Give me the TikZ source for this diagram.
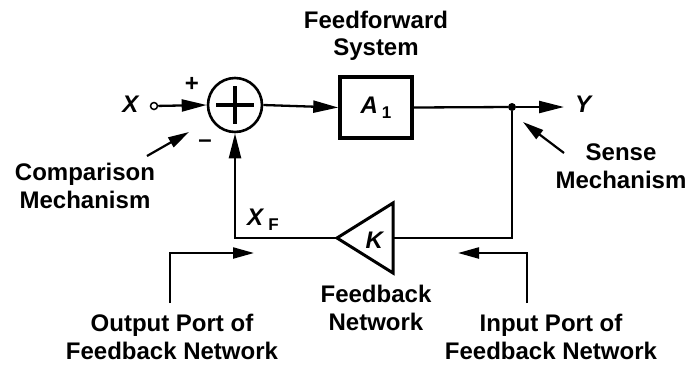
\documentclass[tikz,border=0pt]{standalone}
\usepackage{fontspec}
\setmainfont{Liberation Sans}
\usetikzlibrary{arrows.meta,calc,positioning}

\begin{document}
\begin{tikzpicture}[x=1pt,y=-1pt, every node/.style={font=\fontsize{24}{27.5}\selectfont\bfseries}]
    \useasboundingbox (0,0) rectangle (691,365);
    \tikzset{sig/.style = {line width=2.3pt, -{Triangle[length=25pt,width=12pt]}},
      note/.style = {line width=2.2pt, -{Triangle[length=21pt,width=11pt]}},
      wire/.style = {line width=2.3pt},
      txt/.style = {align=center, inner sep=0pt}}
    % blocks
    \node[circle, draw, line width=2.6pt, minimum size=54pt, inner sep=0pt] (sum) at (235,105) {};
    \draw[line width=4.5pt] ($(sum)-(19,0)$) -- ($(sum)+(19,0)$);
    \draw[line width=4.5pt] ($(sum)-(0,19)$) -- ($(sum)+(0,19)$);
    \node[draw, line width=3.5pt, minimum width=72pt, minimum height=61pt, inner sep=0pt] (A) at (376,107.5)
      {\textit{A}\,\raisebox{-5pt}{\fontsize{17}{17}\selectfont 1}};
    \coordinate (Kt) at (337,238);
    \coordinate (Kr) at (393,238);
    \draw[line width=3pt, line join=miter] (393,203) -- (393,273) -- (Kt) -- cycle;
    \node[txt] (K) at (375,240) {\textit{K}};
    \node[circle, draw, line width=1.5pt, minimum size=7pt, inner sep=0pt] (Xin) at (154,106) {};
    \node[circle, fill, minimum size=8pt, inner sep=0pt] (dot) at (512,107) {};
    \coordinate (Yend) at (564,107);
    % signal path
    \draw[sig] (Xin) -- (sum.west);
    \draw[sig] (sum.east) -- (A.west);
    \draw[wire] (A.east) -- (dot);
    \draw[sig] (dot) -- (Yend);
    \draw[wire] (dot) |- (Kr);
    \draw[sig] (Kt) -| (sum.south);
    % labels
    \node[txt] (X) at (131,104) {\textit{X}};
    \node[txt] (Y) at (584,104) {\textit{Y}};
    \node[txt] (XF) at (263,220) {\textit{X}\,\raisebox{-5pt}{\fontsize{17}{17}\selectfont F}};
    \node[txt] (plus) at (192,84) {+};
    \node[txt] (minus) at (205,144) {--};
    \node[txt] (ff) at (376,36) {Feedforward\\System};
    \node[txt] (cmp) at (85,186) {Comparison\\Mechanism};
    \node[txt] (sns) at (621,166) {Sense\\Mechanism};
    \node[txt] (fbn) at (376,308) {Feedback\\Network};
    \node[txt] (outp) at (172,337) {Output Port of\\Feedback Network};
    \node[txt] (inp) at (551,337) {Input Port of\\Feedback Network};
    % pointers
    \coordinate (c1) at (147,156);
    \coordinate (c2) at (189,132);
    \draw[note] (c1) -- (c2);
    \coordinate (s1) at (564,153);
    \coordinate (s2) at (523,122);
    \draw[note] (s1) -- (s2);
    \coordinate (o1) at (170,303);
    \coordinate (o2) at (254,253);
    \draw[note] (o1) |- (o2);
    \coordinate (i1) at (527,303);
    \coordinate (i2) at (458,253);
    \draw[note] (i1) |- (i2);
\end{tikzpicture}
\end{document}
